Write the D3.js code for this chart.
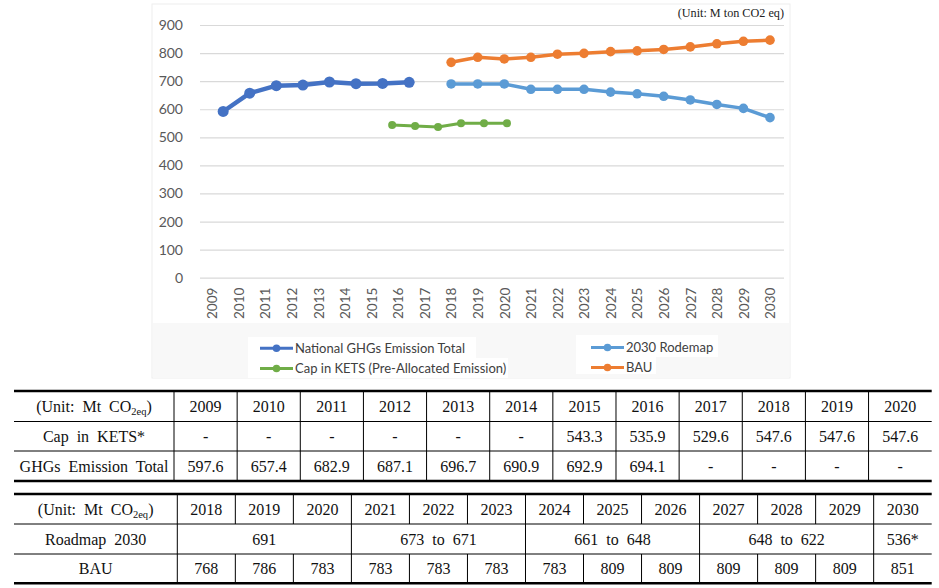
<!DOCTYPE html>
<html><head><meta charset="utf-8">
<script src="https://cdn.jsdelivr.net/npm/d3@7"></script>
<style>body{margin:0;background:#fff}svg{display:block}</style>
</head><body><svg id="c" width="939" height="588"></svg>
<script>
// ---------------- DATA ----------------
const categories = ["2009","2010","2011","2012","2013","2014","2015","2016","2017","2018","2019","2020","2021","2022","2023","2024","2025","2026","2027","2028","2029","2030"];
const yTickValues = [0,100,200,300,400,500,600,700,800,900];
const nationalYears = [2009,2010,2011,2012,2013,2014,2015,2016];
const nationalValues = [592,657,684,686,697,691,692,696];
const capYears = [2015,2016,2017,2018,2019,2020];
const capValues = [544,540,537,550,550,550];
const roadmapYears = [2018,2019,2020,2021,2022,2023,2024,2025,2026,2027,2028,2029,2030];
const roadmapValues = [690,690,690,671,671,671,661,655,646,633,617,603,570];
const bauYears = [2018,2019,2020,2021,2022,2023,2024,2025,2026,2027,2028,2029,2030];
const bauValues = [767,785,779,785,796,799,805,808,813,822,833,842,846];
const seriesNames = ["National GHGs Emission Total","2030 Rodemap","Cap in KETS (Pre-Allocated Emission)","BAU"];
const unitLabel = "(Unit: M ton CO2 eq)";

const table1Header = "(Unit: Mt CO";
const table1Years = ["2009","2010","2011","2012","2013","2014","2015","2016","2017","2018","2019","2020"];
const table1CapLabel = "Cap in KETS*";
const table1Cap = ["-","-","-","-","-","-","543.3","535.9","529.6","547.6","547.6","547.6"];
const table1GhgLabel = "GHGs Emission Total";
const table1Ghg = ["597.6","657.4","682.9","687.1","696.7","690.9","692.9","694.1","-","-","-","-"];
const table2Years = ["2018","2019","2020","2021","2022","2023","2024","2025","2026","2027","2028","2029","2030"];
const table2RoadmapLabel = "Roadmap 2030";
const table2RoadmapText = ["691","673 to 671","661 to 648","648 to 622","536*"];
const table2RoadmapSpan = [3,3,3,3,1];
const table2BauLabel = "BAU";
const table2Bau = ["768","786","783","783","783","783","783","809","809","809","809","809","851"];

// ---------------- LAYOUT / STYLE ----------------
const svg = d3.select("#c");
const C = {dark:"#4472C4", light:"#5B9BD5", orange:"#ED7D31", green:"#70AD47"};
const chartFont = "Lato, 'Open Sans', sans-serif";
const serif = "'Liberation Serif', 'Times New Roman', serif";

// chart frame
svg.append("rect").attr("x",152).attr("y",4).attr("width",638).attr("height",374)
  .attr("fill","#fff").attr("stroke","#eeeeee");
svg.append("rect").attr("x",153).attr("y",323).attr("width",636).attr("height",55).attr("fill","#f8f8f8");
svg.append("rect").attr("x",248).attr("y",337).attr("width",228).attr("height",22).attr("fill","#fff");
svg.append("rect").attr("x",248).attr("y",358).attr("width",260).attr("height",20).attr("fill","#fff");
svg.append("rect").attr("x",576).attr("y",335).attr("width",142).attr("height",22).attr("fill","#fff");
svg.append("rect").attr("x",576).attr("y",356).attr("width",80).attr("height",18).attr("fill","#fff");

const x = d3.scalePoint().domain(categories).range([212, 770]);
const step = x.step();
const y = d3.scaleLinear().domain([0, 900]).range([277.7, 25]);
const xYear = d3.scaleLinear().domain([2009, 2030]).range([x("2009"), x("2030")]);
const nationalShift = 0.42 * step;
const xCap = d3.scaleLinear().domain([2015, 2020]).range([x("2015") + 0.78 * step, x("2020") + 0.1 * step]);

// y axis with gridlines
const gy = svg.append("g").attr("transform","translate(200,0)")
  .call(d3.axisLeft(y).tickValues(yTickValues).tickSizeInner(-584).tickSizeOuter(0).tickPadding(17));
gy.select(".domain").remove();
gy.selectAll("line").attr("stroke","#d9d9d9").attr("stroke-width",1.2);
gy.selectAll("text").attr("fill","#595959").style("font-family",chartFont).style("font-size","14px");

// x axis labels
const gx = svg.append("g").attr("transform",`translate(0,${y(0)})`)
  .call(d3.axisBottom(x).tickSize(0));
gx.select(".domain").remove();
gx.selectAll("text").attr("y",0).attr("x",-10).attr("dy","0.35em")
  .attr("transform","rotate(-90)").attr("text-anchor","end")
  .attr("fill","#595959").style("font-family",chartFont).style("font-size","13.5px");

// unit label
svg.append("text").attr("x",784).attr("y",17).attr("text-anchor","end")
  .style("font-family",serif).style("font-size","12.2px").attr("fill","#222").text(unitLabel);

function drawSeries(xs, ys, xf, color, lw, r) {
  const pts = xs.map((d,i)=>[xf(d), y(ys[i])]);
  svg.append("path").attr("d", d3.line()(pts)).attr("fill","none")
    .attr("stroke",color).attr("stroke-width",lw).attr("stroke-linejoin","round").attr("stroke-linecap","round");
  svg.append("g").selectAll("circle").data(pts).join("circle")
    .attr("cx",d=>d[0]).attr("cy",d=>d[1]).attr("r",r).attr("fill",color);
}
drawSeries(bauYears, bauValues, d=>xYear(d), C.orange, 3.5, 4.8);
drawSeries(roadmapYears, roadmapValues, d=>xYear(d), C.light, 3.5, 4.8);
drawSeries(capYears, capValues, d=>xCap(d), C.green, 3, 4);
drawSeries(nationalYears, nationalValues, d=>xYear(d)+nationalShift, C.dark, 4.5, 5.5);

// legend
const legendPos = [[260,348.3],[591,347.5],[260,368.5],[591,367.5]];
const legendColors = [C.dark, C.light, C.green, C.orange];
seriesNames.forEach((name,i)=>{
  const [lx,ly] = legendPos[i];
  svg.append("line").attr("x1",lx).attr("x2",lx+33).attr("y1",ly).attr("y2",ly)
    .attr("stroke",legendColors[i]).attr("stroke-width",3);
  svg.append("circle").attr("cx",lx+16.5).attr("cy",ly).attr("r",3.8).attr("fill",legendColors[i]);
  svg.append("text").attr("x",lx+35).attr("y",ly).attr("dy","0.35em")
    .attr("fill","#404040").style("font-family",chartFont).style("font-size","13px").text(name);
});

// ---------------- TABLES ----------------
const T = svg.append("g").style("font-family",serif).style("font-size","16px").attr("fill","#111");
function cellText(cx, cy, s) {
  T.append("text").attr("x",cx).attr("y",cy).attr("dy","0.35em").attr("text-anchor","middle")
    .style("word-spacing","4px").text(s);
}
function headerLabel(cx, cy) {
  const t = T.append("text").attr("x",cx).attr("y",cy).attr("dy","0.35em").attr("text-anchor","middle")
    .style("word-spacing","4px");
  t.append("tspan").text(table1Header);
  t.append("tspan").attr("font-size","10.5px").attr("dy","3").text("2eq");
  t.append("tspan").attr("dy","-3").text(")");
}
function hline(x1,x2,yy,w){ T.append("line").attr("x1",x1).attr("x2",x2).attr("y1",yy).attr("y2",yy).attr("stroke","#000").attr("stroke-width",w); }
function vline(xx,y1,y2){ T.append("line").attr("x1",xx).attr("x2",xx).attr("y1",y1).attr("y2",y2).attr("stroke","#000").attr("stroke-width",1); }

// table 1
{
  const L = 14, R = 931.7, first = 174, cw = (R - first) / table1Years.length;
  const rows = [391, 421.5, 451, 481];
  const colX = i => first + i * cw;
  hline(L,R,rows[0],2.5); hline(L,R,rows[1],1); hline(L,R,rows[2],1); hline(L,R,rows[3],2.5);
  for (let i=0;i<table1Years.length;i++) vline(colX(i), rows[0], rows[3]);
  const mid = k => (rows[k]+rows[k+1])/2;
  headerLabel((L+first)/2, mid(0));
  cellText((L+first)/2, mid(1), table1CapLabel);
  cellText((L+first)/2, mid(2), table1GhgLabel);
  table1Years.forEach((s,i)=>cellText(colX(i)+cw/2, mid(0), s));
  table1Cap.forEach((s,i)=>cellText(colX(i)+cw/2, mid(1), s));
  table1Ghg.forEach((s,i)=>cellText(colX(i)+cw/2, mid(2), s));
}
// table 2
{
  const L = 14, R = 931.7, first = 177.3, cw = (R - first) / table2Years.length;
  const rows = [494, 524, 554, 583.3];
  const colX = i => first + i * cw;
  hline(L,R,rows[0],2.5); hline(L,R,rows[1],1); hline(L,R,rows[2],1); hline(L,R,rows[3],2.5);
  const mid = k => (rows[k]+rows[k+1])/2;
  for (let i=0;i<table2Years.length;i++) { vline(colX(i), rows[0], rows[1]); vline(colX(i), rows[2], rows[3]); }
  let c = 0;
  table2RoadmapText.forEach((s,i)=>{
    vline(colX(c), rows[1], rows[2]);
    cellText(colX(c) + table2RoadmapSpan[i]*cw/2, mid(1), s);
    c += table2RoadmapSpan[i];
  });
  headerLabel((L+first)/2, mid(0));
  cellText((L+first)/2, mid(1), table2RoadmapLabel);
  cellText((L+first)/2, mid(2), table2BauLabel);
  table2Years.forEach((s,i)=>cellText(colX(i)+cw/2, mid(0), s));
  table2Bau.forEach((s,i)=>cellText(colX(i)+cw/2, mid(2), s));
}
</script></body></html>
